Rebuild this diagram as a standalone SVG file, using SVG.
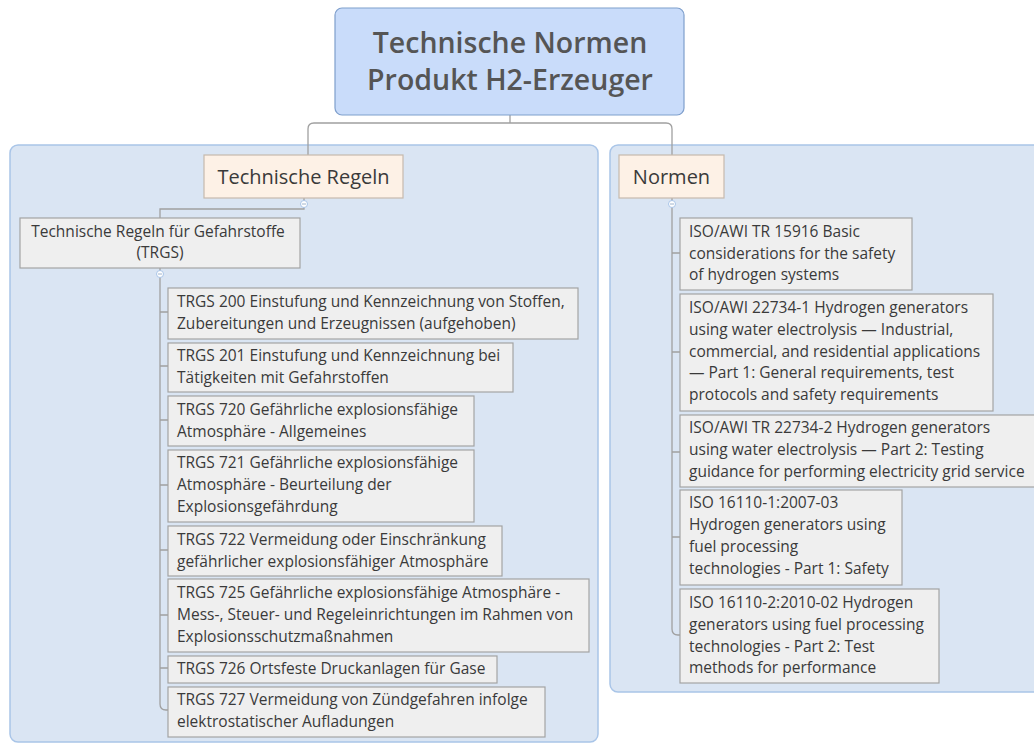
<svg xmlns="http://www.w3.org/2000/svg" width="1034" height="743" viewBox="0 0 1034 743">
<style>
.cont{fill:#dae5f3;stroke:#a9c5e8;stroke-width:1.5}
.root{fill:#c9dcfa;stroke:#7f9fcc;stroke-width:1.2}
.topic{fill:#fdf1e6;stroke:#c6b9ad;stroke-width:1.2}
.box{fill:#efefef;stroke:#a3a3a3;stroke-width:1.2}
.t{font-family:"Open Sans","Noto Sans","DejaVu Sans",sans-serif;fill:#3a3a3a}
.s{font-size:15.5px}
.m{font-size:20px}
.r{font-size:28.5px;font-weight:600;fill:#555}
.ln{fill:none;stroke:#a0a0a0;stroke-width:1.3}
.col{fill:#fff;stroke:#a9c5e8;stroke-width:1}
.dash{stroke:#a0b4cc;stroke-width:1}
</style>
<rect x="0" y="0" width="1034" height="743" fill="#fff"/>
<g id="container-left"><rect class="cont" x="10" y="145" width="588" height="597" rx="8"/></g>
<g id="container-right"><rect class="cont" x="610" y="145" width="440" height="547" rx="8"/></g>
<g id="connectors">
<path class="ln" d="M510 115 V123 M308 155 V129 Q308 123 314 123 H666 Q672 123 672 129 V155"/>
<path class="ln" d="M304 198 V209 H160 V218"/>
<path class="ln" d="M160 268 V704 Q160 710 166 710 H168"/>
<path class="ln" d="M160 312 H168 M160 366 H168 M160 420 H168 M160 485 H168 M160 550 H168 M160 615 H168 M160 668 H168"/>
<path class="ln" d="M672 198 V629 Q672 635 678 635 H680"/>
<path class="ln" d="M672 253 H680 M672 352 H680 M672 452 H680 M672 537 H680"/>
</g>
<g id="root">
<rect class="root" x="335" y="8" width="349" height="107" rx="7"/>
<text class="t r" x="510" y="53" text-anchor="middle">Technische Normen</text>
<text class="t r" x="510" y="90" text-anchor="middle">Produkt H2-Erzeuger</text>
</g>
<g id="technische-regeln">
<rect class="topic" x="204" y="155" width="199" height="43"/>
<text class="t m" x="303.5" y="184" text-anchor="middle">Technische Regeln</text>
<circle class="col" cx="304" cy="204" r="3.5"/><path class="dash" d="M302 204 H306"/>
</g>
<g id="normen">
<rect class="topic" x="619" y="155" width="105" height="43"/>
<text class="t m" x="671.5" y="184" text-anchor="middle">Normen</text>
<circle class="col" cx="672" cy="204" r="3.5"/><path class="dash" d="M670 204 H674"/>
</g>
<g id="trgs">
<rect class="box" x="20" y="218" width="280" height="50"/>
<text class="t s" x="158" y="237" text-anchor="middle">Technische Regeln für Gefahrstoffe</text>
<text class="t s" x="160" y="258" text-anchor="middle">(TRGS)</text>
<circle class="col" cx="160" cy="274" r="3.5"/><path class="dash" d="M158 274 H162"/>
</g>
<g id="trgs200">
<rect class="box" x="168" y="288" width="410" height="51"/>
<text class="t s" x="177" y="307">TRGS 200 Einstufung und Kennzeichnung von Stoffen,</text>
<text class="t s" x="177" y="329">Zubereitungen und Erzeugnissen (aufgehoben)</text>
</g>
<g id="trgs201">
<rect class="box" x="168" y="343" width="345" height="49"/>
<text class="t s" x="177" y="361">TRGS 201 Einstufung und Kennzeichnung bei</text>
<text class="t s" x="177" y="383">Tätigkeiten mit Gefahrstoffen</text>
</g>
<g id="trgs720">
<rect class="box" x="168" y="396" width="306" height="50"/>
<text class="t s" x="177" y="415">TRGS 720 Gefährliche explosionsfähige</text>
<text class="t s" x="177" y="437">Atmosphäre - Allgemeines</text>
</g>
<g id="trgs721">
<rect class="box" x="168" y="450" width="306" height="72"/>
<text class="t s" x="177" y="468">TRGS 721 Gefährliche explosionsfähige</text>
<text class="t s" x="177" y="490">Atmosphäre - Beurteilung der</text>
<text class="t s" x="177" y="512">Explosionsgefährdung</text>
</g>
<g id="trgs722">
<rect class="box" x="168" y="526" width="334" height="50"/>
<text class="t s" x="177" y="545">TRGS 722 Vermeidung oder Einschränkung</text>
<text class="t s" x="177" y="567">gefährlicher explosionsfähiger Atmosphäre</text>
</g>
<g id="trgs725">
<rect class="box" x="168" y="579" width="421" height="73"/>
<text class="t s" x="177" y="598">TRGS 725 Gefährliche explosionsfähige Atmosphäre -</text>
<text class="t s" x="177" y="620">Mess-, Steuer- und Regeleinrichtungen im Rahmen von</text>
<text class="t s" x="177" y="642">Explosionsschutzmaßnahmen</text>
</g>
<g id="trgs726">
<rect class="box" x="168" y="656" width="329" height="27"/>
<text class="t s" x="177" y="674">TRGS 726 Ortsfeste Druckanlagen für Gase</text>
</g>
<g id="trgs727">
<rect class="box" x="168" y="687" width="377" height="50"/>
<text class="t s" x="177" y="705">TRGS 727 Vermeidung von Zündgefahren infolge</text>
<text class="t s" x="177" y="727">elektrostatischer Aufladungen</text>
</g>
<g id="iso15916">
<rect class="box" x="680" y="218" width="232" height="72"/>
<text class="t s" x="689" y="237">ISO/AWI TR 15916 Basic</text>
<text class="t s" x="689" y="259">considerations for the safety</text>
<text class="t s" x="689" y="280">of hydrogen systems</text>
</g>
<g id="iso22734-1">
<rect class="box" x="680" y="294" width="313" height="117"/>
<text class="t s" x="689" y="313">ISO/AWI 22734-1 Hydrogen generators</text>
<text class="t s" x="689" y="335">using water electrolysis — Industrial,</text>
<text class="t s" x="689" y="357">commercial, and residential applications</text>
<text class="t s" x="689" y="378">— Part 1: General requirements, test</text>
<text class="t s" x="689" y="400">protocols and safety requirements</text>
</g>
<g id="iso22734-2">
<rect class="box" x="680" y="415" width="360" height="72"/>
<text class="t s" x="689" y="433">ISO/AWI TR 22734-2 Hydrogen generators</text>
<text class="t s" x="689" y="455">using water electrolysis — Part 2: Testing</text>
<text class="t s" x="689" y="477">guidance for performing electricity grid service</text>
</g>
<g id="iso16110-1">
<rect class="box" x="680" y="490" width="222" height="95"/>
<text class="t s" x="689" y="508">ISO 16110-1:2007-03</text>
<text class="t s" x="689" y="530">Hydrogen generators using</text>
<text class="t s" x="689" y="552">fuel processing</text>
<text class="t s" x="689" y="574">technologies - Part 1: Safety</text>
</g>
<g id="iso16110-2">
<rect class="box" x="680" y="589" width="259" height="94"/>
<text class="t s" x="689" y="608">ISO 16110-2:2010-02 Hydrogen</text>
<text class="t s" x="689" y="630">generators using fuel processing</text>
<text class="t s" x="689" y="652">technologies - Part 2: Test</text>
<text class="t s" x="689" y="673">methods for performance</text>
</g>
</svg>
